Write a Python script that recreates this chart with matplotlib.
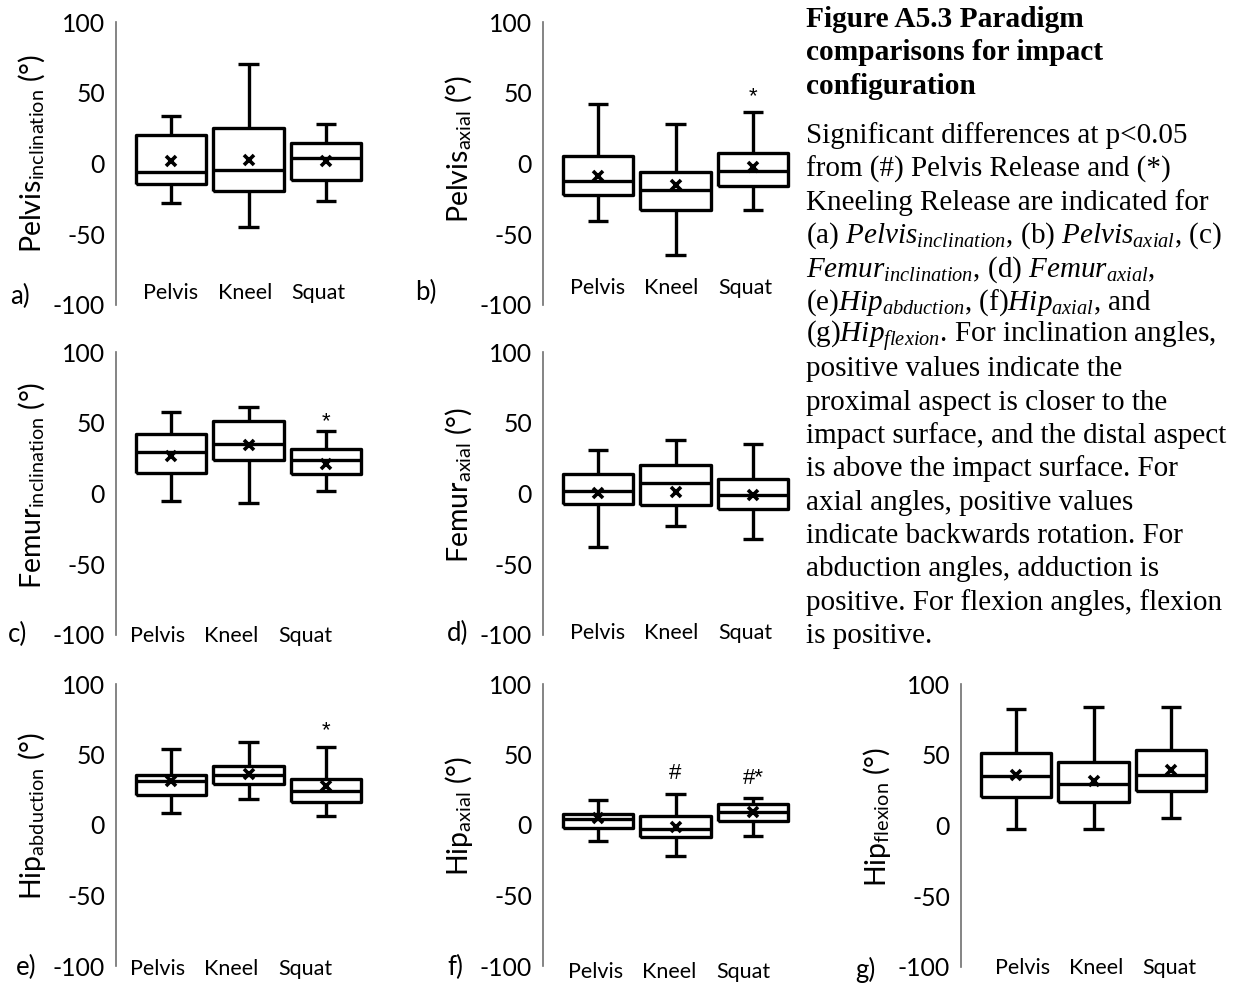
import matplotlib
matplotlib.use("Agg")
import matplotlib.pyplot as plt
from matplotlib.transforms import offset_copy

plt.rcParams['font.family'] = ['Lato', 'DejaVu Sans']
plt.rcParams['mathtext.fontset'] = 'custom'
plt.rcParams['mathtext.rm'] = 'Liberation Serif'
plt.rcParams['mathtext.it'] = 'Liberation Serif:italic'
plt.rcParams['mathtext.bf'] = 'Liberation Serif:bold'
plt.rcParams['axes.unicode_minus'] = False

# ---------------------------------------------------------------- data
categories = ["Pelvis", "Kneel", "Squat"]
y_ticks = [-100, -50, 0, 50, 100]
y_tick_labels = ["-100", "-50", "0", "50", "100"]

# (a) Pelvis inclination
pelvis_incl_whislo = [-28, -44.7, -26.3]
pelvis_incl_q1 = [-14.4, -19.2, -11.4]
pelvis_incl_med = [-5.9, -4.7, 4.0]
pelvis_incl_q3 = [19.9, 25.3, 14.7]
pelvis_incl_whishi = [33.6, 70.3, 27.7]
pelvis_incl_mean = [1.5, 2.5, 2.0]

# (b) Pelvis axial
pelvis_axial_whislo = [-40.9, -64.6, -32.7]
pelvis_axial_q1 = [-22.5, -33.1, -16.1]
pelvis_axial_med = [-12.1, -18.5, -5.0]
pelvis_axial_q3 = [5.2, -5.9, 7.6]
pelvis_axial_whishi = [41.9, 28.2, 36.7]
pelvis_axial_mean = [-9.0, -14.9, -2.6]

# (c) Femur inclination
femur_incl_whislo = [-5.0, -6.6, 1.7]
femur_incl_q1 = [14.7, 23.4, 13.5]
femur_incl_med = [29.3, 34.8, 23.7]
femur_incl_q3 = [41.9, 51.4, 31.2]
femur_incl_whishi = [57.8, 60.8, 44.3]
femur_incl_mean = [26.5, 34.3, 21.0]

# (d) Femur axial
femur_axial_whislo = [-38.0, -22.7, -32.2]
femur_axial_q1 = [-7.3, -8.3, -10.9]
femur_axial_med = [2.1, 7.6, -1.4]
femur_axial_q3 = [13.5, 19.9, 9.9]
femur_axial_whishi = [30.8, 37.9, 34.8]
femur_axial_mean = [0.5, 1.2, -1.4]

# (e) Hip abduction
hip_abd_whislo = [8.3, 18.5, 6.6]
hip_abd_q1 = [21.3, 28.9, 16.6]
hip_abd_med = [31.5, 35.5, 24.4]
hip_abd_q3 = [35.5, 42.1, 32.7]
hip_abd_whishi = [53.7, 59.2, 55.6]
hip_abd_mean = [31.5, 36.0, 27.7]

# (f) Hip axial
hip_axial_whislo = [-11.4, -22.0, -7.6]
hip_axial_q1 = [-2.4, -8.8, 3.1]
hip_axial_med = [4.0, -2.8, 9.0]
hip_axial_q3 = [7.8, 6.4, 14.9]
hip_axial_whishi = [17.8, 22.0, 18.9]
hip_axial_mean = [4.7, -1.7, 9.0]

# (g) Hip flexion
hip_flex_whislo = [-2.8, -2.4, 5.4]
hip_flex_q1 = [20.0, 16.5, 24.7]
hip_flex_med = [34.8, 29.4, 36.0]
hip_flex_q3 = [51.3, 45.0, 53.4]
hip_flex_whishi = [82.4, 83.5, 83.8]
hip_flex_mean = [36.0, 31.3, 39.5]

y_labels = [
    r"Pelvis$_{\mathregular{inclination}}$ (°)",
    r"Pelvis$_{\mathregular{axial}}$ (°)",
    r"Femur$_{\mathregular{inclination}}$ (°)",
    r"Femur$_{\mathregular{axial}}$ (°)",
    r"Hip$_{\mathregular{abduction}}$ (°)",
    r"Hip$_{\mathregular{axial}}$ (°)",
    r"Hip$_{\mathregular{flexion}}$ (°)",
]
panel_letters = ["a)", "b)", "c)", "d)", "e)", "f)", "g)"]

# significance marks: (panel index, category index, text, y value)
sig_marks = [
    (1, 2, "*", 52.5),
    (2, 2, "*", 56.0),
    (4, 2, "*", 72.0),
    (5, 1, "#", 38.0),
    (5, 2, "#*", 34.5),
]

caption_title = [
    "Figure A5.3 Paradigm",
    "comparisons for impact",
    "configuration",
]
caption_body = [
    "Significant differences at p<0.05",
    "from (#) Pelvis Release and (*)",
    "Kneeling Release are indicated for",
    r"(a) $Pelvis_{inclination}$, (b) $Pelvis_{axial}$, (c)",
    r"$Femur_{inclination}$, (d) $Femur_{axial}$,",
    r"(e)$Hip_{abduction}$, (f)$Hip_{axial}$, and",
    r"(g)$Hip_{flexion}$. For inclination angles,",
    "positive values indicate the",
    "proximal aspect is closer to the",
    "impact surface, and the distal aspect",
    "is above the impact surface. For",
    "axial angles, positive values",
    "indicate backwards rotation. For",
    "abduction angles, adduction is",
    "positive. For flexion angles, flexion",
    "is positive.",
]

panels = [
    (pelvis_incl_whislo, pelvis_incl_q1, pelvis_incl_med, pelvis_incl_q3, pelvis_incl_whishi, pelvis_incl_mean),
    (pelvis_axial_whislo, pelvis_axial_q1, pelvis_axial_med, pelvis_axial_q3, pelvis_axial_whishi, pelvis_axial_mean),
    (femur_incl_whislo, femur_incl_q1, femur_incl_med, femur_incl_q3, femur_incl_whishi, femur_incl_mean),
    (femur_axial_whislo, femur_axial_q1, femur_axial_med, femur_axial_q3, femur_axial_whishi, femur_axial_mean),
    (hip_abd_whislo, hip_abd_q1, hip_abd_med, hip_abd_q3, hip_abd_whishi, hip_abd_mean),
    (hip_axial_whislo, hip_axial_q1, hip_axial_med, hip_axial_q3, hip_axial_whishi, hip_axial_mean),
    (hip_flex_whislo, hip_flex_q1, hip_flex_med, hip_flex_q3, hip_flex_whishi, hip_flex_mean),
]

# ---------------------------------------------------------------- layout
W, H = 1243, 983
fig = plt.figure(figsize=(W / 100, H / 100), dpi=100)

AX_W = 253.0          # axes width in px
UNIT = 77.5           # px between box centres
X_LEFT = -55.0 / UNIT

# (axis x px, top px, bottom px, category label y, category label x0,
#  letter x px, letter y px, ylabel y fraction)
layout = [
    (116, 22, 305, -91.5, 0.00, 10, 296, 0.535),
    (543, 22, 305, -88.0, 0.00, 415, 292, 0.55),
    (116, 352, 635, -100.5, -0.17, 8, 634, 0.53),
    (543, 352, 635, -98.5, 0.00, 447, 633, 0.53),
    (116, 684, 966, -102.0, -0.17, 16, 967, 0.53),
    (543, 684, 966, -104.0, -0.03, 447, 967, 0.53),
    (961, 684, 967, -100.5, 0.08, 855, 970, 0.53),
]

LW = 2.4
line_kw = dict(color="black", linewidth=LW, solid_capstyle="butt")
axes_list = []
for k, (stats_src, lay) in enumerate(zip(panels, layout)):
    ax_x, top, bot, cat_y, cat_x0, let_x, let_y, ylab_y = lay
    ax = fig.add_axes([ax_x / W, 1 - bot / H, AX_W / W, (bot - top) / H])
    axes_list.append(ax)
    lo, q1, med, q3, hi, mean = stats_src
    stats = [dict(whislo=lo[i], q1=q1[i], med=med[i], q3=q3[i], whishi=hi[i],
                  mean=mean[i], fliers=[], label=categories[i]) for i in range(3)]
    ax.bxp(stats, positions=[0, 1, 2], widths=0.916, capwidths=0.27,
           showmeans=True, showfliers=False,
           boxprops=line_kw, whiskerprops=line_kw, capprops=line_kw,
           medianprops=line_kw,
           meanprops=dict(marker="x", markeredgecolor="black",
                          markerfacecolor="black", markersize=7.5,
                          markeredgewidth=2.6))
    ax.set_xlim(X_LEFT, X_LEFT + AX_W / UNIT)
    ax.set_ylim(-100, 100)
    ax.set_yticks(y_ticks)
    ax.set_yticklabels(y_tick_labels)
    ax.set_xticks([])
    ax.tick_params(axis="y", length=0, pad=8, labelsize=17.8)
    for s in ("top", "right", "bottom"):
        ax.spines[s].set_visible(False)
    ax.spines["left"].set_color("#6f6f6f")
    ax.spines["left"].set_linewidth(1.2)
    ax.patch.set_visible(False)

    for i, cat in enumerate(categories):
        ax.text(cat_x0 + i * 0.95, cat_y, cat, ha="center", va="center",
                fontsize=15.5, clip_on=False)

    ax.text(-84.0 / AX_W, ylab_y, y_labels[k], transform=ax.transAxes,
            rotation=90, ha="center", va="center", fontsize=20.5)

    fig.text(let_x / W, 1 - let_y / H, panel_letters[k], ha="left",
             va="center", fontsize=18.5)

# significance symbols, baseline shifted so the glyph sits on the value
for p, c, s, y in sig_marks:
    ax = axes_list[p]
    drop = 9.5 if s == "*" else 5.5
    tr = offset_copy(ax.transData, fig=fig, y=-drop, units="points")
    ax.text(c, y, s, ha="center", va="baseline", fontsize=16,
            family="Liberation Sans", transform=tr)

# ---------------------------------------------------------------- caption
CAP_X = 806
for j, line in enumerate(caption_title):
    fig.text(CAP_X / W, 1 - (27 + j * 33.5) / H, line, ha="left",
             va="baseline", family="Liberation Serif", fontweight="bold",
             fontsize=21.2)
for j, line in enumerate(caption_body):
    fig.text(CAP_X / W, 1 - (143 + j * 33.33) / H, line, ha="left",
             va="baseline", family="Liberation Serif", fontsize=21)

fig.savefig("out.png", dpi=100, facecolor="white")
